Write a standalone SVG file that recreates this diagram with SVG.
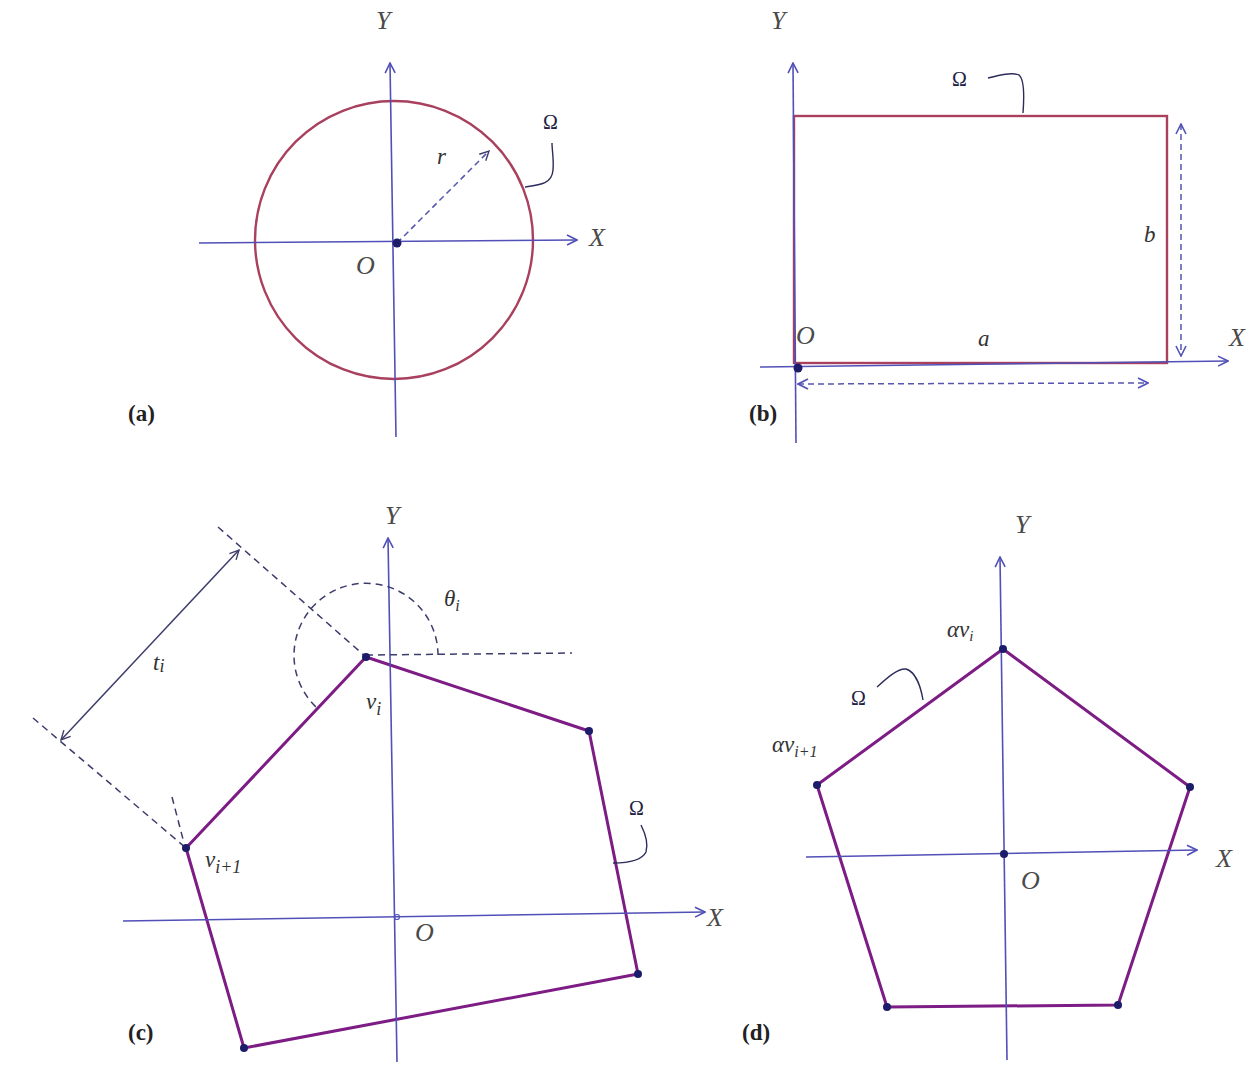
<svg xmlns="http://www.w3.org/2000/svg" width="1254" height="1065" viewBox="0 0 1254 1065">
<style>
.bg{fill:#ffffff}
.axis{stroke:#5050b8;stroke-width:1.6;fill:none}
.shapeA{stroke:#a8405e;stroke-width:2.4;fill:none}
.shapeP{stroke:#7c1c84;stroke-width:3;fill:none;stroke-linejoin:round}
.dash{stroke:#3c3c6c;stroke-width:1.5;fill:none;stroke-dasharray:7 5}
.dashb{stroke:#5555b0;stroke-width:1.5;fill:none;stroke-dasharray:6 4}
.lead{stroke:#2c2c5a;stroke-width:1.4;fill:none}
.dot{fill:#1c1c6a}
.lbl{font-family:"Liberation Serif","Times New Roman",serif;font-style:italic;font-size:26px;fill:#4a4a4a}
.sm{font-family:"Liberation Serif","Times New Roman",serif;font-style:italic;font-size:23px;fill:#333333}
.om{font-family:"Liberation Serif","Times New Roman",serif;font-size:20px;fill:#222244}
.cap{font-family:"Liberation Serif","Times New Roman",serif;font-weight:bold;font-size:23px;fill:#222222}
</style>
<defs>
<marker id="ah" viewBox="0 0 12 12" refX="11" refY="6" markerWidth="12" markerHeight="12" markerUnits="userSpaceOnUse" orient="auto-start-reverse">
<path d="M1,1 L11,6 L1,11" fill="none" stroke="#5050b8" stroke-width="1.6"/>
</marker>
<marker id="ahd" viewBox="0 0 12 12" refX="11" refY="6" markerWidth="11" markerHeight="11" markerUnits="userSpaceOnUse" orient="auto-start-reverse">
<path d="M1,1 L11,6 L1,11" fill="none" stroke="#3c3c6c" stroke-width="1.5"/>
</marker>
</defs>
<rect class="bg" x="0" y="0" width="1254" height="1065"/>

<!-- Panel (a) -->
<g id="panel-a">
<g id="a-shape"><circle class="shapeA" cx="394" cy="240" r="139"/></g>
<g id="a-connectors">
<line class="axis" x1="396" y1="437" x2="390" y2="63" marker-end="url(#ah)"/>
<line class="axis" x1="199" y1="243" x2="577" y2="240" marker-end="url(#ah)"/>
<line class="dashb" x1="397" y1="243" x2="489" y2="151" marker-end="url(#ahd)"/>
<path class="lead" d="M525,187 C540,185 552,184 553,170 C554,160 552,150 552,143"/>
</g>
<circle class="dot" cx="397" cy="243" r="4.5"/>
<text class="lbl" x="376" y="29">Y</text>
<text class="lbl" x="589" y="246">X</text>
<text class="lbl" x="356" y="274">O</text>
<text class="sm" x="437" y="164">r</text>
<text class="om" x="543" y="129">Ω</text>
<text class="cap" x="128" y="421">(a)</text>
</g>

<!-- Panel (b) -->
<g id="panel-b">
<g id="b-shape"><rect class="shapeA" x="794" y="116" width="373" height="247"/></g>
<g id="b-connectors">
<line class="axis" x1="796" y1="443" x2="793" y2="63" marker-end="url(#ah)"/>
<line class="axis" x1="760" y1="367" x2="1228" y2="361" marker-end="url(#ah)"/>
<line class="dashb" x1="1181" y1="124" x2="1181" y2="356" marker-start="url(#ah)" marker-end="url(#ah)"/>
<line class="dashb" x1="798" y1="384" x2="1148" y2="383" marker-start="url(#ah)" marker-end="url(#ah)"/>
<path class="lead" d="M988,78 C1000,75 1012,72 1019,75 C1025,80 1024,100 1023,113"/>
</g>
<circle class="dot" cx="798" cy="368" r="4.5"/>
<text class="lbl" x="771" y="29">Y</text>
<text class="lbl" x="1229" y="346">X</text>
<text class="lbl" x="796" y="344">O</text>
<text class="sm" x="978" y="346">a</text>
<text class="sm" x="1144" y="242">b</text>
<text class="om" x="952" y="86">Ω</text>
<text class="cap" x="749" y="421">(b)</text>
</g>

<!-- Panel (c) -->
<g id="panel-c">
<g id="c-shape"><polygon class="shapeP" points="366,657 589,731 638,974 244,1048 186,848"/></g>
<g id="c-connectors">
<line class="axis" x1="397" y1="1062" x2="388" y2="538" marker-end="url(#ah)"/>
<line class="axis" x1="123" y1="921" x2="705" y2="912" marker-end="url(#ah)"/>
<line class="dash" x1="218" y1="527" x2="366" y2="657"/>
<line class="dash" x1="33" y1="718" x2="186" y2="848"/>
<line class="dash" x1="172" y1="797" x2="184" y2="843"/>
<line class="dash" x1="366" y1="655" x2="572" y2="653"/>
<path class="dash" d="M438,655 A72,72 0 1 0 317,708"/>
<line stroke="#3c3c6c" stroke-width="1.5" x1="239" y1="550" x2="61" y2="740" marker-start="url(#ahd)" marker-end="url(#ahd)"/>
<path class="lead" d="M641,825 C646,835 648,845 646,852 C642,860 628,863 613,863"/>
</g>
<circle fill="none" stroke="#5050b8" stroke-width="1.2" cx="397" cy="917" r="2.5"/>
<circle class="dot" cx="366" cy="657" r="4"/>
<circle class="dot" cx="589" cy="731" r="4"/>
<circle class="dot" cx="638" cy="974" r="4"/>
<circle class="dot" cx="244" cy="1048" r="4"/>
<circle class="dot" cx="186" cy="848" r="4"/>
<text class="lbl" x="385" y="524">Y</text>
<text class="lbl" x="707" y="926">X</text>
<text class="lbl" x="415" y="941">O</text>
<text class="sm" x="444" y="606">θ<tspan font-size="16" dy="5">i</tspan></text>
<text class="sm" x="366" y="709">v<tspan font-size="18" dy="6">i</tspan></text>
<text class="sm" x="205" y="867">v<tspan font-size="18" dy="6">i+1</tspan></text>
<text class="sm" x="153" y="670" fill="#5c2a3a">t<tspan font-size="18" dy="2">i</tspan></text>
<text class="om" x="629" y="815">Ω</text>
<text class="cap" x="128" y="1040">(c)</text>
</g>

<!-- Panel (d) -->
<g id="panel-d">
<g id="d-shape"><polygon class="shapeP" points="1003,649 1190,787 1118,1005 887,1007 817,785"/></g>
<g id="d-connectors">
<line class="axis" x1="1007" y1="1060" x2="1000" y2="557" marker-end="url(#ah)"/>
<line class="axis" x1="806" y1="857" x2="1197" y2="850" marker-end="url(#ah)"/>
<path class="lead" d="M877,687 C887,678 898,668 906,669 C916,672 921,688 923,700"/>
</g>
<circle class="dot" cx="1003" cy="649" r="4"/>
<circle class="dot" cx="1190" cy="787" r="4"/>
<circle class="dot" cx="1118" cy="1005" r="4"/>
<circle class="dot" cx="887" cy="1007" r="4"/>
<circle class="dot" cx="817" cy="785" r="4"/>
<circle class="dot" cx="1004" cy="854" r="4"/>
<text class="lbl" x="1015" y="533">Y</text>
<text class="lbl" x="1216" y="867">X</text>
<text class="lbl" x="1021" y="889">O</text>
<text class="sm" x="947" y="637">αv<tspan font-size="15" dy="4">i</tspan></text>
<text class="sm" x="772" y="752">αv<tspan font-size="16" dy="5">i+1</tspan></text>
<text class="om" x="851" y="705">Ω</text>
<text class="cap" x="742" y="1040">(d)</text>
</g>
</svg>
